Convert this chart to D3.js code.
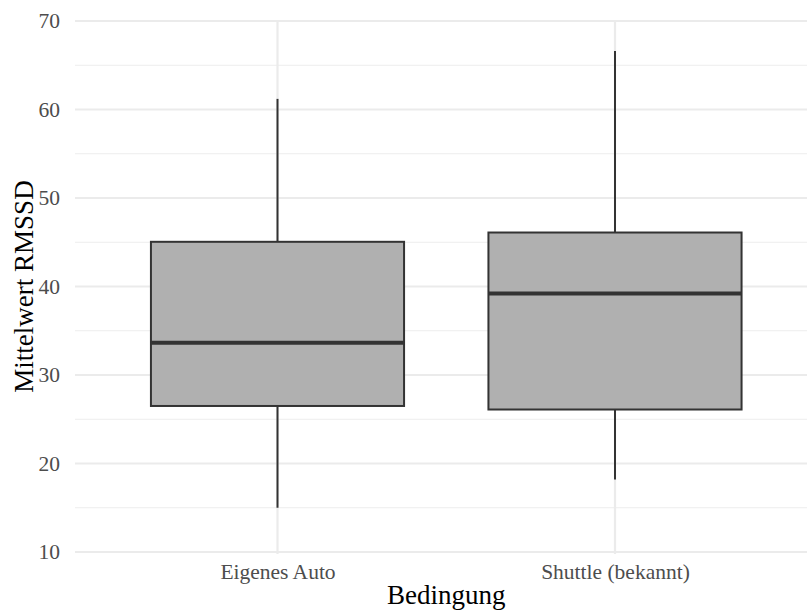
<!DOCTYPE html>
<html>
<head>
<meta charset="utf-8">
<script src="https://cdn.jsdelivr.net/npm/d3@7"></script>
<style>
body{margin:0;background:#fff;}
svg{display:block;font-family:"Liberation Serif","Times New Roman",serif;}
</style>
</head>
<body>
<div id="chart"></div>
<script>
var w = 807;
var h = 611;

// data
var categories = ["Eigenes Auto", "Shuttle (bekannt)"];
var whiskerLow  = [15.0, 18.2];
var q1          = [26.5, 26.1];
var median      = [33.65, 39.2];
var q3          = [45.05, 46.1];
var whiskerHigh = [61.2, 66.6];
var yMajor = [10, 20, 30, 40, 50, 60, 70];
var yMinor = [15, 25, 35, 45, 55, 65];
var xTitle = "Bedingung";
var yTitle = "Mittelwert RMSSD";

var panelLeft = 75, panelRight = 817.5, panelTop = 21, panelBottom = 552;

var xScale = d3.scalePoint()
  .domain(categories)
  .range([panelLeft, panelRight])
  .padding(0.6);

var yScale = d3.scaleLinear()
  .domain([10, 70])
  .range([panelBottom, panelTop]);

var boxW = xScale.step() * 0.75;

var svg = d3.select("#chart").append("svg")
  .attr("width", w)
  .attr("height", h);

// grid
svg.append("g").selectAll("line")
  .data(yMinor).enter().append("line")
  .attr("x1", panelLeft).attr("x2", panelRight)
  .attr("y1", function(d){ return yScale(d); })
  .attr("y2", function(d){ return yScale(d); })
  .attr("stroke", "#ededed").attr("stroke-width", 1.1);

svg.append("g").selectAll("line")
  .data(yMajor).enter().append("line")
  .attr("x1", panelLeft).attr("x2", panelRight)
  .attr("y1", function(d){ return yScale(d); })
  .attr("y2", function(d){ return yScale(d); })
  .attr("stroke", "#ebebeb").attr("stroke-width", 2.2);

svg.append("g").selectAll("line")
  .data(categories).enter().append("line")
  .attr("x1", function(d){ return xScale(d); })
  .attr("x2", function(d){ return xScale(d); })
  .attr("y1", panelTop).attr("y2", panelBottom + 2)
  .attr("stroke", "#ebebeb").attr("stroke-width", 2.2);

// boxes
var boxes = svg.append("g").selectAll("g")
  .data(categories).enter().append("g");

boxes.append("line")
  .attr("x1", function(d){ return xScale(d); })
  .attr("x2", function(d){ return xScale(d); })
  .attr("y1", function(d, i){ return yScale(whiskerHigh[i]); })
  .attr("y2", function(d, i){ return yScale(q3[i]); })
  .attr("stroke", "#333").attr("stroke-width", 2);

boxes.append("line")
  .attr("x1", function(d){ return xScale(d); })
  .attr("x2", function(d){ return xScale(d); })
  .attr("y1", function(d, i){ return yScale(q1[i]); })
  .attr("y2", function(d, i){ return yScale(whiskerLow[i]); })
  .attr("stroke", "#333").attr("stroke-width", 2);

boxes.append("rect")
  .attr("x", function(d){ return xScale(d) - boxW / 2; })
  .attr("width", boxW)
  .attr("y", function(d, i){ return yScale(q3[i]); })
  .attr("height", function(d, i){ return yScale(q1[i]) - yScale(q3[i]); })
  .attr("fill", "#b0b0b0")
  .attr("stroke", "#333").attr("stroke-width", 2);

boxes.append("line")
  .attr("x1", function(d){ return xScale(d) - boxW / 2; })
  .attr("x2", function(d){ return xScale(d) + boxW / 2; })
  .attr("y1", function(d, i){ return yScale(median[i]); })
  .attr("y2", function(d, i){ return yScale(median[i]); })
  .attr("stroke", "#333").attr("stroke-width", 4);

// axes (no lines, only labels)
var yAxis = svg.append("g")
  .attr("transform", "translate(" + (panelLeft - 7) + ",0)")
  .call(d3.axisLeft(yScale).tickValues(yMajor).tickSize(0).tickPadding(8));
yAxis.select(".domain").remove();
yAxis.selectAll("text")
  .attr("fill", "#4d4d4d")
  .style("font-size", "21.5px")
  .style("font-family", "'Liberation Serif','Times New Roman',serif");

var xAxis = svg.append("g")
  .attr("transform", "translate(0," + panelBottom + ")")
  .call(d3.axisBottom(xScale).tickSize(0).tickPadding(12));
xAxis.select(".domain").remove();
xAxis.selectAll("text")
  .attr("fill", "#4d4d4d")
  .style("font-size", "21.5px")
  .style("font-family", "'Liberation Serif','Times New Roman',serif");

// titles
svg.append("text")
  .attr("x", (panelLeft + panelRight) / 2)
  .attr("y", 604)
  .style("text-anchor", "middle")
  .style("font-size", "27px")
  .attr("fill", "#000")
  .text(xTitle);

svg.append("text")
  .attr("transform", "rotate(-90)")
  .attr("x", -(panelTop + panelBottom) / 2)
  .attr("y", 33)
  .style("text-anchor", "middle")
  .style("font-size", "27px")
  .attr("fill", "#000")
  .text(yTitle);
</script>
</body>
</html>
